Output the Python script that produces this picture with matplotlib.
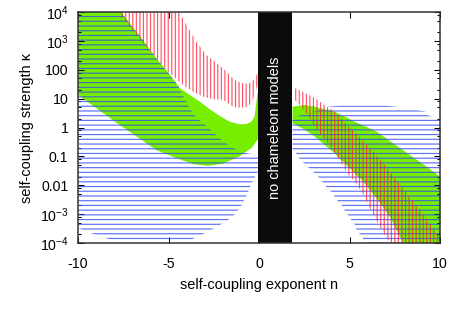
import numpy as np
import matplotlib
matplotlib.use("Agg")
import matplotlib.pyplot as plt
from matplotlib.ticker import FixedLocator, FixedFormatter

plt.rcParams["font.family"] = ["Liberation Sans", "DejaVu Sans"]
plt.rcParams["mathtext.default"] = "regular"
plt.rcParams["axes.unicode_minus"] = False
plt.rcParams["hatch.linewidth"] = 1.0

# region boundaries: n, log10(kappa)
green_left_top_n = [-10.5, -7.9, -7.62, -7.07, -6.61, -6.15, -5.6, -5.04, -4.37, -3.83, -3.28, -2.72,
                    -2.17, -1.62, -1.07, -0.7, -0.42, -0.24, -0.11, -0.05]
green_left_top_k = [4.2, 4.2, 4.0, 3.55, 3.2, 2.8, 2.34, 1.93, 1.36, 1.13, 0.9, 0.63,
                    0.4, 0.2, 0.11, 0.12, 0.2, 0.38, 1.07, 1.3]
green_left_bot_n = [-10.5, -10.0, -8.0, -5.67, -4.5, -3.6, -2.82, -2.0, -1.07, -0.4, -0.05]
green_left_bot_k = [1.35, 1.13, 0.22, -0.78, -1.08, -1.27, -1.33, -1.25, -1.0, -0.7, -0.4]

green_right_top_n = [1.85, 2.53, 3.07, 3.62, 4.17, 4.73, 5.28, 5.83, 6.49, 7.4, 8.33, 9.25, 10.0, 10.5]
green_right_top_k = [0.72, 0.78, 0.72, 0.63, 0.55, 0.38, 0.2, 0.05, -0.14, -0.54, -0.95, -1.35, -1.7, -1.9]
green_right_bot_n = [1.85, 2.53, 3.07, 3.62, 4.17, 4.73, 5.28, 5.75, 6.49, 7.22, 7.96, 8.2, 10.5]
green_right_bot_k = [0.15, -0.08, -0.31, -0.6, -0.89, -1.24, -1.58, -1.87, -2.45, -3.08, -4.0, -4.3, -4.3]

red_left_top_n = [-7.75, -4.6, -4.0, -3.46, -2.9, -1.99, -1.71, -1.44, -1.16, -0.88, -0.61, -0.37, -0.14, -0.05]
red_left_top_k = [4.2, 4.2, 3.55, 2.97, 2.51, 2.05, 1.88, 1.7, 1.59, 1.53, 1.51, 1.59, 1.82, 1.9]
red_left_bot_n = [-7.75, -7.36, -6.15, -5.04, -4.2, -3.65, -3.1, -2.54, -1.99, -1.71, -1.44, -1.16,
                  -0.88, -0.61, -0.37, -0.14, -0.05]
red_left_bot_k = [4.0, 3.65, 2.75, 1.95, 1.47, 1.24, 1.07, 0.98, 0.96, 0.84, 0.72, 0.69,
                  0.69, 0.72, 0.9, 1.36, 1.5]

red_right_top_n = [1.98, 2.47, 2.89, 3.28, 3.68, 4.09, 4.7, 5.2, 5.71, 6.3, 6.9, 7.51, 8.14, 8.73,
                   9.36, 10.0, 10.5]
red_right_top_k = [1.36, 1.22, 1.09, 0.93, 0.75, 0.6, 0.2, -0.12, -0.43, -0.83, -1.26, -1.75, -2.25,
                   -2.74, -3.26, -3.8, -4.2]
red_right_bot_n = [1.98, 2.25, 2.47, 2.67, 2.89, 3.08, 3.28, 3.48, 3.68, 3.89, 4.09, 4.44, 4.86,
                   5.29, 5.71, 6.12, 6.52, 6.94, 7.13, 7.4, 10.5]
red_right_bot_k = [0.95, 0.78, 0.61, 0.44, 0.2, 0.03, -0.14, -0.31, -0.43, -0.6, -0.78, -1.12, -1.58,
                   -1.87, -2.26, -2.79, -3.26, -3.72, -3.89, -4.2, -4.3]

blue_left_n = [-10.5, -7.75, -7.62, -7.07, -6.61, -6.15, -5.6, -5.04, -4.49, -4.11, -3.93, -3.83,
               -3.61, -3.46, -3.12, -2.84, -2.57, -2.29, -2.02, -1.62, -1.18, -0.6, -0.05,
               -0.05, -0.1, -0.4, -0.5, -0.6, -0.7, -0.85, -1.0, -1.2, -1.4, -1.7, -2.1, -2.5,
               -3.0, -3.6, -4.0, -8.0, -9.1, -9.85, -10.5]
blue_left_k = [4.2, 4.2, 4.0, 3.55, 3.2, 2.8, 2.34, 1.93, 1.47, 0.98, 0.81, 0.65,
               0.49, 0.33, 0.17, 0.01, -0.15, -0.31, -0.47, -0.64, -0.8, -0.9, -0.95,
               -1.5, -1.57, -1.92, -2.07, -2.23, -2.38, -2.54, -2.72, -2.89, -3.05, -3.2, -3.35, -3.5,
               -3.66, -3.84, -3.92, -3.92, -3.7, -3.52, -3.3]

blue_right_n = [1.85, 2.15, 3.08, 3.85, 4.5, 7.0, 7.55, 9.15, 9.4, 10.5, 10.5, 5.9, 5.75, 5.56,
                5.38, 5.29, 5.1, 4.92, 4.74, 4.6, 4.36, 4.18, 4.0, 3.73, 3.54, 3.32, 3.08, 2.8,
                2.53, 2.25, 2.15, 2.0, 1.85]
blue_right_k = [0.26, 0.4, 0.56, 0.72, 0.76, 0.76, 0.72, 0.56, 0.4, 0.26, -4.3, -4.2, -3.84, -3.68,
                -3.52, -3.36, -3.2, -3.03, -2.88, -2.71, -2.55, -2.39, -2.23, -2.07, -1.91, -1.74,
                -1.58, -1.42, -1.26, -1.1, -0.95, -0.87, -0.8]

bar_n = [-0.05, 1.85]

GREEN = "#76ee00"
BLUE = (0.20, 0.30, 0.95, 0.8)
RED = (1.0, 0.10, 0.20, 0.75)


def poly(top_n, top_k, bot_n, bot_k):
    n = list(top_n) + list(bot_n)[::-1]
    k = list(top_k) + list(bot_k)[::-1]
    return np.array(n), 10.0 ** np.array(k)


fig = plt.figure(figsize=(450 / 85, 321 / 85), dpi=85)
ax = fig.add_axes([78 / 450, 1 - 243 / 321, 362 / 450, 231 / 321])
ax.set_yscale("log")

for tn, tk, bn, bk in [(green_left_top_n, green_left_top_k, green_left_bot_n, green_left_bot_k),
                       (green_right_top_n, green_right_top_k, green_right_bot_n, green_right_bot_k)]:
    n, k = poly(tn, tk, bn, bk)
    ax.fill(n, k, facecolor=GREEN, edgecolor="none", zorder=1)

for bn_, bk_ in [(blue_left_n, blue_left_k), (blue_right_n, blue_right_k)]:
    ax.fill(bn_, 10.0 ** np.array(bk_), facecolor="none", edgecolor=BLUE, linewidth=0,
            hatch="---", zorder=2)

for tn, tk, bn, bk in [(red_left_top_n, red_left_top_k, red_left_bot_n, red_left_bot_k),
                       (red_right_top_n, red_right_top_k, red_right_bot_n, red_right_bot_k)]:
    n, k = poly(tn, tk, bn, bk)
    ax.fill(n, k, facecolor="none", edgecolor=RED, linewidth=0, hatch="||||", zorder=3)

ax.axvspan(bar_n[0], bar_n[1], color="#0b0b0b", zorder=4, lw=0)
ax.text(np.mean(bar_n), 1.0, "no chameleon models", color="white", rotation=90,
        ha="center", va="center", fontsize=12.3, zorder=5)

ax.set_xlim(-10, 10)
ax.set_ylim(1e-4, 1e4)

yt = [1e-4, 1e-3, 1e-2, 1e-1, 1, 10, 100, 1e3, 1e4]
ytl = ["10$^{-4}$", "10$^{-3}$", "0.01", "0.1", "1", "10", "100", "10$^{3}$", "10$^{4}$"]
ax.yaxis.set_major_locator(FixedLocator(yt))
ax.yaxis.set_major_formatter(FixedFormatter(ytl))
minor = [m * 10.0 ** e for e in range(-4, 4) for m in (2, 5, 8)]
ax.yaxis.set_minor_locator(FixedLocator(minor))
ax.yaxis.set_minor_formatter(FixedFormatter([""] * len(minor)))
ax.set_xticks([-10, -5, 0, 5, 10])
ax.set_xticklabels(["-10", "-5", "0", "5", "10"])

ax.tick_params(which="both", direction="in", top=True, right=True, labelsize=12, colors="black")
ax.tick_params(which="major", length=5, width=0.9)
ax.tick_params(which="minor", length=2.5, width=0.9)
ax.tick_params(axis="x", pad=12)
ax.tick_params(axis="y", pad=8)
for s in ax.spines.values():
    s.set_linewidth(1.3)
    s.set_color("#333333")
    s.set_zorder(6)

ax.set_xlabel("self-coupling exponent n", fontsize=12.3, labelpad=6)
ax.set_ylabel("self-coupling strength κ", fontsize=12.3, labelpad=5)

fig.savefig("out.png", dpi=85)
